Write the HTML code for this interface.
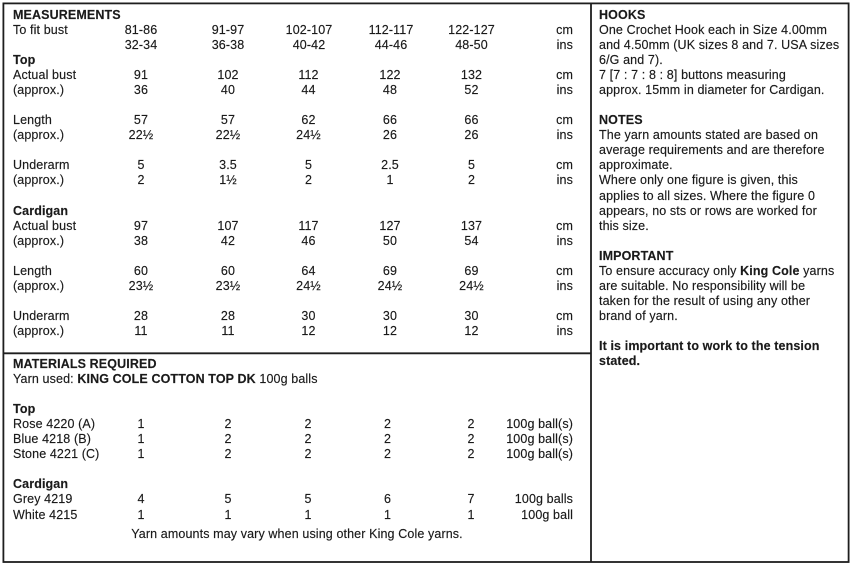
<!DOCTYPE html>
<html><head><meta charset="utf-8"><style>
html,body{margin:0;padding:0;background:#fff;}
body{width:854px;height:568px;position:relative;overflow:hidden;font-family:"Liberation Sans",Arial,sans-serif;font-size:12.5px;letter-spacing:0.12px;color:#1a1a1a;-webkit-text-stroke:0.15px #1a1a1a;}
.r{position:absolute;left:0;width:854px;height:15px;line-height:15px;white-space:nowrap;}
.r span{position:absolute;top:0;}
.l{left:13px;}
.c{width:80px;margin-left:-40px;text-align:center;}
.u{right:281px;text-align:right;}
.rt{position:absolute;left:599px;height:15px;line-height:15px;white-space:nowrap;}
b{font-weight:bold;}
</style></head><body>
<svg width="854" height="568" style="position:absolute;left:0;top:0" xmlns="http://www.w3.org/2000/svg">
<rect x="3.4" y="3.4" width="845.2" height="558.6" fill="none" stroke="#1e1e1e" stroke-width="1.8"/>
<line x1="591" y1="3" x2="591" y2="562" stroke="#1e1e1e" stroke-width="1.8"/>
<line x1="3" y1="353.3" x2="591" y2="353.3" stroke="#1e1e1e" stroke-width="1.8"/>
</svg>

<!-- MEASUREMENTS -->
<div class="r" style="top:7.6px"><span class="l"><b>MEASUREMENTS</b></span></div>
<div class="r" style="top:22.7px"><span class="l">To fit bust</span><span class="c" style="left:141px">81-86</span><span class="c" style="left:228px">91-97</span><span class="c" style="left:309px">102-107</span><span class="c" style="left:391px">112-117</span><span class="c" style="left:471.5px">122-127</span><span class="u">cm</span></div>
<div class="r" style="top:37.7px"><span class="c" style="left:141px">32-34</span><span class="c" style="left:228px">36-38</span><span class="c" style="left:309px">40-42</span><span class="c" style="left:391px">44-46</span><span class="c" style="left:471.5px">48-50</span><span class="u">ins</span></div>
<div class="r" style="top:52.8px"><span class="l"><b>Top</b></span></div>
<div class="r" style="top:67.9px"><span class="l">Actual bust</span><span class="c" style="left:141px">91</span><span class="c" style="left:228px">102</span><span class="c" style="left:308.5px">112</span><span class="c" style="left:390px">122</span><span class="c" style="left:471.5px">132</span><span class="u">cm</span></div>
<div class="r" style="top:83px"><span class="l">(approx.)</span><span class="c" style="left:141px">36</span><span class="c" style="left:228px">40</span><span class="c" style="left:308.5px">44</span><span class="c" style="left:390px">48</span><span class="c" style="left:471.5px">52</span><span class="u">ins</span></div>
<div class="r" style="top:113.1px"><span class="l">Length</span><span class="c" style="left:141px">57</span><span class="c" style="left:228px">57</span><span class="c" style="left:308.5px">62</span><span class="c" style="left:390px">66</span><span class="c" style="left:471.5px">66</span><span class="u">cm</span></div>
<div class="r" style="top:128.2px"><span class="l">(approx.)</span><span class="c" style="left:141px">22½</span><span class="c" style="left:228px">22½</span><span class="c" style="left:308.5px">24½</span><span class="c" style="left:390px">26</span><span class="c" style="left:471.5px">26</span><span class="u">ins</span></div>
<div class="r" style="top:158.3px"><span class="l">Underarm</span><span class="c" style="left:141px">5</span><span class="c" style="left:228px">3.5</span><span class="c" style="left:308.5px">5</span><span class="c" style="left:390px">2.5</span><span class="c" style="left:471.5px">5</span><span class="u">cm</span></div>
<div class="r" style="top:173.4px"><span class="l">(approx.)</span><span class="c" style="left:141px">2</span><span class="c" style="left:228px">1½</span><span class="c" style="left:308.5px">2</span><span class="c" style="left:390px">1</span><span class="c" style="left:471.5px">2</span><span class="u">ins</span></div>
<div class="r" style="top:203.5px"><span class="l"><b>Cardigan</b></span></div>
<div class="r" style="top:218.6px"><span class="l">Actual bust</span><span class="c" style="left:141px">97</span><span class="c" style="left:228px">107</span><span class="c" style="left:308.5px">117</span><span class="c" style="left:390px">127</span><span class="c" style="left:471.5px">137</span><span class="u">cm</span></div>
<div class="r" style="top:233.7px"><span class="l">(approx.)</span><span class="c" style="left:141px">38</span><span class="c" style="left:228px">42</span><span class="c" style="left:308.5px">46</span><span class="c" style="left:390px">50</span><span class="c" style="left:471.5px">54</span><span class="u">ins</span></div>
<div class="r" style="top:263.8px"><span class="l">Length</span><span class="c" style="left:141px">60</span><span class="c" style="left:228px">60</span><span class="c" style="left:308.5px">64</span><span class="c" style="left:390px">69</span><span class="c" style="left:471.5px">69</span><span class="u">cm</span></div>
<div class="r" style="top:278.9px"><span class="l">(approx.)</span><span class="c" style="left:141px">23½</span><span class="c" style="left:228px">23½</span><span class="c" style="left:308.5px">24½</span><span class="c" style="left:390px">24½</span><span class="c" style="left:471.5px">24½</span><span class="u">ins</span></div>
<div class="r" style="top:309px"><span class="l">Underarm</span><span class="c" style="left:141px">28</span><span class="c" style="left:228px">28</span><span class="c" style="left:308.5px">30</span><span class="c" style="left:390px">30</span><span class="c" style="left:471.5px">30</span><span class="u">cm</span></div>
<div class="r" style="top:324.1px"><span class="l">(approx.)</span><span class="c" style="left:141px">11</span><span class="c" style="left:228px">11</span><span class="c" style="left:308.5px">12</span><span class="c" style="left:390px">12</span><span class="c" style="left:471.5px">12</span><span class="u">ins</span></div>

<!-- MATERIALS -->
<div class="r" style="top:356.7px"><span class="l"><b>MATERIALS REQUIRED</b></span></div>
<div class="r" style="top:371.8px"><span class="l">Yarn used: <b>KING COLE COTTON TOP DK</b> 100g balls</span></div>
<div class="r" style="top:401.9px"><span class="l"><b>Top</b></span></div>
<div class="r" style="top:417px"><span class="l">Rose 4220 (A)</span><span class="c" style="left:141px">1</span><span class="c" style="left:228px">2</span><span class="c" style="left:308px">2</span><span class="c" style="left:387.5px">2</span><span class="c" style="left:471px">2</span><span class="u">100g ball(s)</span></div>
<div class="r" style="top:432.1px"><span class="l">Blue 4218 (B)</span><span class="c" style="left:141px">1</span><span class="c" style="left:228px">2</span><span class="c" style="left:308px">2</span><span class="c" style="left:387.5px">2</span><span class="c" style="left:471px">2</span><span class="u">100g ball(s)</span></div>
<div class="r" style="top:447.2px"><span class="l">Stone 4221 (C)</span><span class="c" style="left:141px">1</span><span class="c" style="left:228px">2</span><span class="c" style="left:308px">2</span><span class="c" style="left:387.5px">2</span><span class="c" style="left:471px">2</span><span class="u">100g ball(s)</span></div>
<div class="r" style="top:477.3px"><span class="l"><b>Cardigan</b></span></div>
<div class="r" style="top:492.4px"><span class="l">Grey 4219</span><span class="c" style="left:141px">4</span><span class="c" style="left:228px">5</span><span class="c" style="left:308px">5</span><span class="c" style="left:387.5px">6</span><span class="c" style="left:471px">7</span><span class="u">100g balls</span></div>
<div class="r" style="top:507.5px"><span class="l">White 4215</span><span class="c" style="left:141px">1</span><span class="c" style="left:228px">1</span><span class="c" style="left:308px">1</span><span class="c" style="left:387.5px">1</span><span class="c" style="left:471px">1</span><span class="u">100g ball</span></div>
<div class="r" style="top:526.9px"><span class="c" style="left:297px;width:400px;margin-left:-200px">Yarn amounts may vary when using other King Cole yarns.</span></div>

<!-- RIGHT COLUMN -->
<div class="rt" style="top:7.6px"><b>HOOKS</b></div>
<div class="rt" style="top:22.7px">One Crochet Hook each in Size 4.00mm</div>
<div class="rt" style="top:37.7px">and 4.50mm (UK sizes 8 and 7. USA sizes</div>
<div class="rt" style="top:52.8px">6/G and 7).</div>
<div class="rt" style="top:67.9px">7 [7 : 7 : 8 : 8] buttons measuring</div>
<div class="rt" style="top:83px">approx. 15mm in diameter for Cardigan.</div>
<div class="rt" style="top:113.1px"><b>NOTES</b></div>
<div class="rt" style="top:128.2px">The yarn amounts stated are based on</div>
<div class="rt" style="top:143.3px">average requirements and are therefore</div>
<div class="rt" style="top:158.3px">approximate.</div>
<div class="rt" style="top:173.4px">Where only one figure is given, this</div>
<div class="rt" style="top:188.5px">applies to all sizes. Where the figure 0</div>
<div class="rt" style="top:203.5px">appears, no sts or rows are worked for</div>
<div class="rt" style="top:218.6px">this size.</div>
<div class="rt" style="top:248.8px"><b>IMPORTANT</b></div>
<div class="rt" style="top:263.8px">To ensure accuracy only <b>King Cole</b> yarns</div>
<div class="rt" style="top:278.9px">are suitable. No responsibility will be</div>
<div class="rt" style="top:294px">taken for the result of using any other</div>
<div class="rt" style="top:309px">brand of yarn.</div>
<div class="rt" style="top:339.2px"><b>It is important to work to the tension</b></div>
<div class="rt" style="top:354.3px"><b>stated.</b></div>
</body></html>
